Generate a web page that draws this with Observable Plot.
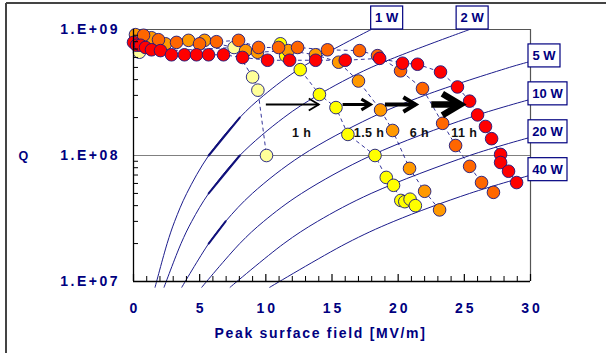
<!DOCTYPE html>
<html><head><meta charset="utf-8">
<script src="https://cdn.jsdelivr.net/npm/d3@7"></script>
<script src="https://cdn.jsdelivr.net/npm/@observablehq/plot@0.6"></script>
<style>
body{margin:0;background:#fff;}
#chart{position:relative;width:606px;height:353px;overflow:hidden;}
</style>
</head><body><div id="chart"></div>
<script>
// ---------- data ----------
const xTicks = [0, 5, 10, 15, 20, 25, 30];
const xTickLabels = ["0", "5", "10", "15", "20", "25", "30"];
const xMinorTicks = [1,2,3,4,6,7,8,9,11,12,13,14,16,17,18,19,21,22,23,24,26,27,28,29];
const yTicks = [1e7, 1e8, 1e9];
const yTickLabels = ["1.E+07", "1.E+08", "1.E+09"];
const yMinorTicks = [2e7,3e7,4e7,5e7,6e7,7e7,8e7,9e7,2e8,3e8,4e8,5e8,6e8,7e8,8e8,9e8];

// measurement series (peak surface field MV/m, Q)
const paleE = [0.45, 7.6, 9.0, 9.4, 10.05];
const paleQ = [6.6e8, 7.2e8, 4.2e8, 3.3e8, 1.0e8];
const yellowE = [11.1, 11.5, 12.6, 14.05, 15.3, 16.2, 18.25, 19.1, 19.65, 20.2, 20.5, 20.9, 21.3];
const yellowQ = [7.7e8, 6.2e8, 4.8e8, 3.05e8, 2.4e8, 1.47e8, 1.0e8, 6.7e7, 5.8e7, 4.4e7, 4.3e7, 4.5e7, 4.0e7];
const orangeE = [0.15, 1.36, 2.42, 4.16, 5.37, 8.47, 9.37, 11.7, 13.75, 15.5, 17.0, 18.67, 19.58, 20.86, 22.0, 23.13];
const orangeQ = [9.1e8, 8.6e8, 7.7e8, 8.2e8, 8.2e8, 6.8e8, 6.6e8, 6.8e8, 6.3e8, 5.5e8, 3.9e8, 2.3e8, 1.58e8, 7.9e7, 5.2e7, 3.7e7];
const darkOrangeE = [0.76, 1.89, 3.25, 4.99, 6.27, 7.94, 9.45, 10.96, 12.4, 14.66, 17.08, 18.44, 20.18, 21.84, 23.36, 24.34, 25.4, 26.3, 27.2];
const darkOrangeQ = [9.0e8, 8.3e8, 7.9e8, 7.7e8, 8.0e8, 8.2e8, 7.2e8, 7.2e8, 7.2e8, 6.9e8, 6.8e8, 6.2e8, 4.7e8, 3.4e8, 1.8e8, 1.2e8, 8.2e7, 6.1e7, 5.1e7];
const redE = [0.0, 0.23, 0.53, 0.91, 1.36, 2.04, 2.87, 3.85, 4.76, 5.67, 6.8, 8.24, 10.13, 11.8, 13.76, 16.0, 18.6, 20.33, 21.46, 23.2, 24.48, 25.4, 26.0, 26.6, 27.06, 27.74, 27.74, 28.34, 28.95];
const redQ = [7.9e8, 7.5e8, 7.5e8, 7.2e8, 6.9e8, 6.8e8, 6.3e8, 6.3e8, 6.3e8, 6.3e8, 6.3e8, 6.0e8, 5.7e8, 5.7e8, 5.7e8, 5.7e8, 5.9e8, 5.4e8, 5.3e8, 4.6e8, 3.5e8, 2.7e8, 2.1e8, 1.7e8, 1.36e8, 1.02e8, 8.8e7, 7.5e7, 6.1e7];

// constant-power curves
const curveLabels = ["1 W", "2 W", "5 W", "10 W", "20 W", "40 W"];
const curveE = [
  [1.63, 2.54, 3.11, 4.02, 5.68, 8.03, 9.84, 12.70, 17.96],
  [2.31, 3.59, 4.40, 5.68, 8.03, 11.36, 13.91, 17.96, 25.40],
  [3.65, 5.68, 6.96, 8.98, 12.70, 17.96, 22.00, 28.40, 30],
  [5.16, 8.03, 9.84, 12.70, 17.96, 25.40, 30],
  [7.30, 11.36, 13.91, 17.96, 25.40, 30],
  [10.3, 16.06, 19.67, 25.40, 30]
];
const curveQ = [
  [9e6, 2e7, 3e7, 5e7, 1e8, 2e8, 3e8, 5e8, 1e9],
  [9e6, 2e7, 3e7, 5e7, 1e8, 2e8, 3e8, 5e8, 1e9],
  [9e6, 2e7, 3e7, 5e7, 1e8, 2e8, 3e8, 5e8, 5.58e8],
  [9e6, 2e7, 3e7, 5e7, 1e8, 2e8, 2.79e8],
  [9e6, 2e7, 3e7, 5e7, 1e8, 1.395e8],
  [9e6, 2e7, 3e7, 5e7, 6.98e7]
];

// bake-time arrows
const arrowFromE = [10.0, 15.8, 19.0, 22.5];
const arrowToE = [14.0, 17.9, 21.3, 24.7];
const arrowQ = 2.54e8;
const arrowLabels = ["1 h", "1.5 h", "6 h", "11 h"];
const arrowLabelE = [12.7, 17.8, 21.6, 25.0];
const arrowLabelQ = 1.52e8;

// ---------- styles ----------
const navy = "#000080";
const seriesColors = ["#FFFF99", "#FFFF00", "#FF9900", "#FF6600", "#FF0000"];
const arrowWidths = [1.8, 3, 4, 6.5];
const arrowHeads = [10, 9, 12, 18];
const font = "'Liberation Sans', Arial, sans-serif";

// ---------- tables ----------
const seriesE = [paleE, yellowE, orangeE, darkOrangeE, redE];
const seriesQ = [paleQ, yellowQ, orangeQ, darkOrangeQ, redQ];
const points = [];
seriesE.forEach((es, s) => es.forEach((e, j) => points.push({E: e, Q: seriesQ[s][j], s, c: seriesColors[s]})));
const curveRows = [];
curveE.forEach((es, i) => es.forEach((e, j) => curveRows.push({E: e, Q: curveQ[i][j], p: curveLabels[i], i})));
const arrows = arrowFromE.map((e, i) => ({e1: e, e2: arrowToE[i], q: arrowQ, w: arrowWidths[i], h: arrowHeads[i]}));
const arrowText = arrowLabels.map((t, i) => ({t, E: arrowLabelE[i], Q: arrowLabelQ}));

const chevron = {
  draw(ctx, size) {
    const r = Math.sqrt(size / Math.PI);
    ctx.moveTo(-r, -0.6 * r);
    ctx.lineTo(0, 0);
    ctx.lineTo(-r, 0.6 * r);
  }
};

const plot = Plot.plot({
  width: 606, height: 353,
  marginLeft: 133, marginRight: 76, marginTop: 29, marginBottom: 72,
  x: {domain: [0, 30], axis: null},
  y: {type: "log", domain: [1e7, 1e9], axis: null},
  color: {type: "identity"},
  r: {type: "identity"},
  style: {fontFamily: font, background: "white", overflow: "visible"},
  marks: [
    Plot.ruleY([1e8], {stroke: "#808080", strokeWidth: 1.2}),
    Plot.ruleY([1e9], {stroke: "#555", strokeWidth: 1.2}),
    Plot.ruleX([30], {stroke: "#555", strokeWidth: 1.2}),
    Plot.line(curveRows, {x: "E", y: "Q", z: "p", stroke: "#1c1c8c", strokeWidth: 1, curve: "catmull-rom"}),
    // heavier stretch of the low-power curves (as drawn in the original)
    Plot.line(curveRows, {filter: d => d.i < 3 && d.E >= 5.5 && d.E <= 8.1, x: "E", y: "Q", z: "p", stroke: "#10107a", strokeWidth: 2}),
    Plot.line(points, {x: "E", y: "Q", z: "s", stroke: navy, strokeWidth: 0.8, strokeDasharray: "3,4"}),
    Plot.dot(points, {x: "E", y: "Q", r: 6.3, fill: "c", stroke: "#1a1a80", strokeWidth: 0.9}),
    Plot.ruleX([0], {stroke: "#000", strokeWidth: 1.3}),
    Plot.ruleY([1e7], {stroke: "#000", strokeWidth: 1.3}),
    Plot.tickY(yMinorTicks, {y: d => d, insetRight: 392, stroke: "#000", strokeWidth: 1}),
    Plot.tickX(xMinorTicks, {x: d => d, insetTop: 247, stroke: "#000", strokeWidth: 1}),
    Plot.tickX(xTicks, {x: d => d, insetTop: 245, stroke: "#000", strokeWidth: 1.2}),
    Plot.link(arrows, {x1: "e1", x2: "e2", y1: "q", y2: "q", stroke: "#000", strokeWidth: "w"}),
    Plot.dot(arrows, {x: "e2", y: "q", r: "h", symbol: chevron, fill: "none", stroke: "#000", strokeWidth: "w", strokeLinejoin: "miter"}),
    // texts (order matters for letter spacing below)
    Plot.text(xTicks, {x: d => d, frameAnchor: "bottom", dy: 31, dx: 1.5, text: (d, i) => xTickLabels[i], fontSize: 14, fontWeight: "bold", fill: navy}),
    Plot.text(yTicks, {y: d => d, frameAnchor: "left", dx: -13.5, textAnchor: "end", text: (d, i) => yTickLabels[i], fontSize: 14, fontWeight: "bold", fill: navy}),
    Plot.text([1e8], {y: d => d, frameAnchor: "left", dx: -115, textAnchor: "start", text: () => "Q", fontSize: 12.5, fontWeight: "bold", fill: navy}),
    Plot.text(["Peak surface field [MV/m]"], {frameAnchor: "bottom", dy: 56, dx: -11.5, text: d => d, fontSize: 14, fontWeight: "bold", fill: navy}),
    Plot.text(arrowText, {x: "E", y: "Q", text: "t", fontSize: 12.5, fontWeight: "bold", fill: "#111"})
  ]
});

// letter spacing for the text marks, in mark order
const spacings = ["3px", "2.5px", "0px", "1.7px", "0.4px"];
plot.querySelectorAll('g[aria-label="text"]').forEach((g, i) => {
  if (spacings[i]) g.setAttribute("letter-spacing", spacings[i]);
});

// outer frame and power labels, placed with the plot's own scales
const svg = d3.select(plot);
const sx = plot.scale("x"), sy = plot.scale("y");
const deco = svg.append("g");
deco.append("line").attr("x1", 6).attr("y1", 3).attr("x2", 606).attr("y2", 3).attr("stroke", "#444").attr("stroke-width", 2);
deco.append("line").attr("x1", 6).attr("y1", 3).attr("x2", 6).attr("y2", 353).attr("stroke", "#444").attr("stroke-width", 2);
const topDx = {"1 W": 16, "2 W": 3};
curveLabels.forEach((lab, i) => {
  const n = curveE[i].length;
  const px = sx.apply(curveE[i][n - 1]);
  const py = sy.apply(curveQ[i][n - 1]);
  const h = 23;
  let w, x, y;
  if (curveQ[i][n - 1] >= 1e9) {
    w = 32; x = px + topDx[lab] - w / 2; y = py - h;
  } else {
    w = lab.length > 3 ? 39 : 32; x = px - 2; y = py - 17;
  }
  deco.append("rect").attr("x", x).attr("y", y).attr("width", w).attr("height", h)
    .attr("fill", "white").attr("stroke", navy).attr("stroke-width", 1.2);
  deco.append("text").attr("x", x + w / 2).attr("y", y + h / 2).attr("dy", "0.35em")
    .attr("text-anchor", "middle").attr("font-size", 13).attr("font-weight", "bold")
    .attr("fill", navy).attr("font-family", font).text(lab);
});

document.getElementById("chart").appendChild(plot);
</script>
</body></html>
